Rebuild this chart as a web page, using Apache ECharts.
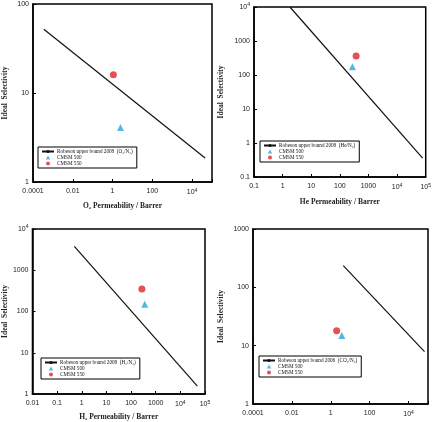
<!DOCTYPE html>
<html>
<head>
<meta charset="utf-8">
<script src="https://cdn.jsdelivr.net/npm/echarts@6/dist/echarts.min.js"></script>
<style>
  html, body { margin: 0; padding: 0; background: #fff; }
  #chart { width: 434px; height: 422px; }
</style>
</head>
<body>
<div id="chart"></div>
<script>
// Robeson upper bound lines (two end points, permeability, selectivity)
const robesonO2 = [[3.5e-4, 52], [45000, 1.86]];
const robesonHe = [[1.8, 10000], [78000, 0.36]];
const robesonH2 = [[0.5, 3800], [49000, 1.55]];
const robesonCO2 = [[4.4, 235], [66000, 7.9]];

// membranes: [permeability, selectivity]
const cmsm500 = [[2.5, 4.1], [275, 175], [360, 150], [3.7, 15]];
const cmsm550 = [[1.1, 16], [370, 360], [275, 350], [2.0, 18]];

const boundNames = [
  'Robeson upper bound 2008  (O₂/N₂)',
  'Robeson upper bound 2008  (He/N₂)',
  'Robeson upper bound 2008  (H₂/N₂)',
  'Robeson upper bound 2006  (CO₂/N₂)'
];
const xNames = ['O₂ Permeability / Barrer', 'He Permeability / Barrer', 'H₂ Permeability / Barrer', ''];
const xRange = [[1e-4, 1e5], [0.1, 1e5], [0.01, 1e5], [1e-4, 1e5]];
const yRange = [[1, 100], [0.1, 1e4], [1, 1e4], [1, 1000]];
const xStep = [2, 1, 1, 2];

const grids = [
  { left: 33, top: 4, width: 179, height: 178 },
  { left: 254, top: 7, width: 174, height: 170 },
  { left: 31, top: 229, width: 174, height: 165 },
  { left: 253, top: 229, width: 175, height: 175 }
];
const legendPos = [[38, 147], [260, 141], [41, 358], [259, 356]];
const xGap = [20, 21, 19, 20];
const yGap = [24, 29, 23, 28];

function logLabel(step) {
  return function (v) {
    const e = Math.round(Math.log10(v));
    if (e % step !== 0 && step > 1) return '';
    if (e >= 4) return '10{sup|' + e + '}';
    if (e < 0) return v.toFixed(-e);
    return String(Math.pow(10, e));
  };
}

const tickLabel = {
  fontFamily: 'Liberation Sans, Arial, sans-serif',
  fontSize: 7,
  color: '#222',
  rich: { sup: { fontSize: 5, verticalAlign: 'top', padding: [0, 0, 4, 0], color: '#222' } }
};
const nameStyle = {
  fontFamily: 'Liberation Serif, Times New Roman, serif',
  fontWeight: 'bold',
  fontSize: 7.5,
  color: '#222'
};
const boundData = [robesonO2, robesonHe, robesonH2, robesonCO2];
const triIcon = 'path://M5,0 L10,9 L0,9 Z';

const xAxis = [], yAxis = [], series = [], legend = [];
for (let i = 0; i < 4; i++) {
  xAxis.push({
    type: 'log', logBase: 10, gridIndex: i,
    min: xRange[i][0], max: xRange[i][1], interval: xStep[i],
    name: xNames[i], nameLocation: 'middle', nameGap: xGap[i], nameTextStyle: nameStyle,
    axisLine: { lineStyle: { color: '#000', width: 1.5 } },
    axisTick: { inside: true, length: 3, lineStyle: { color: '#000' } },
    axisLabel: Object.assign({ margin: 6, formatter: logLabel(xStep[i]) }, tickLabel),
    splitLine: { show: false }
  });
  yAxis.push({
    type: 'log', logBase: 10, gridIndex: i,
    min: yRange[i][0], max: yRange[i][1], interval: 1,
    name: 'Ideal  Selectivity', nameLocation: 'middle', nameGap: yGap[i], nameTextStyle: nameStyle,
    axisLine: { lineStyle: { color: '#000', width: 1.5 } },
    axisTick: { inside: true, length: 3, lineStyle: { color: '#000' } },
    axisLabel: Object.assign({ margin: 4, formatter: logLabel(1) }, tickLabel),
    splitLine: { show: false }
  });
  series.push({
    name: boundNames[i], type: 'line', xAxisIndex: i, yAxisIndex: i,
    data: boundData[i], symbol: 'none',
    lineStyle: { color: '#111', width: 1.2 }, itemStyle: { color: '#111' }
  });
  series.push({
    name: 'CMSM 500', type: 'scatter', xAxisIndex: i, yAxisIndex: i,
    data: [cmsm500[i]], symbol: 'triangle', symbolSize: 7,
    itemStyle: { color: '#2aa4d8' }
  });
  series.push({
    name: 'CMSM 550', type: 'scatter', xAxisIndex: i, yAxisIndex: i,
    data: [cmsm550[i]], symbol: 'circle', symbolSize: 7,
    itemStyle: { color: '#e5222b' }
  });
  legend.push({
    orient: 'vertical', left: legendPos[i][0], top: legendPos[i][1],
    data: [
      { name: boundNames[i], itemStyle: { color: '#111' } },
      { name: 'CMSM 500', icon: triIcon },
      { name: 'CMSM 550', icon: 'circle' }
    ],
    borderColor: '#000', borderWidth: 1, padding: [2, 4, 2, 3],
    itemGap: 1, itemWidth: 12, itemHeight: 4,
    textStyle: { fontFamily: 'Liberation Serif, Times New Roman, serif', fontSize: 5.2, color: '#111', padding: [0, 0, 0, -2] },
    selectedMode: false
  });
}

const chart = echarts.init(document.getElementById('chart'));
chart.setOption({
  animation: false,
  backgroundColor: '#fff',
  grid: grids.map(g => Object.assign({ show: true, borderColor: '#000', borderWidth: 1.5, backgroundColor: 'transparent' }, g)),
  xAxis: xAxis,
  yAxis: yAxis,
  legend: legend,
  series: series
});
</script>
</body>
</html>
